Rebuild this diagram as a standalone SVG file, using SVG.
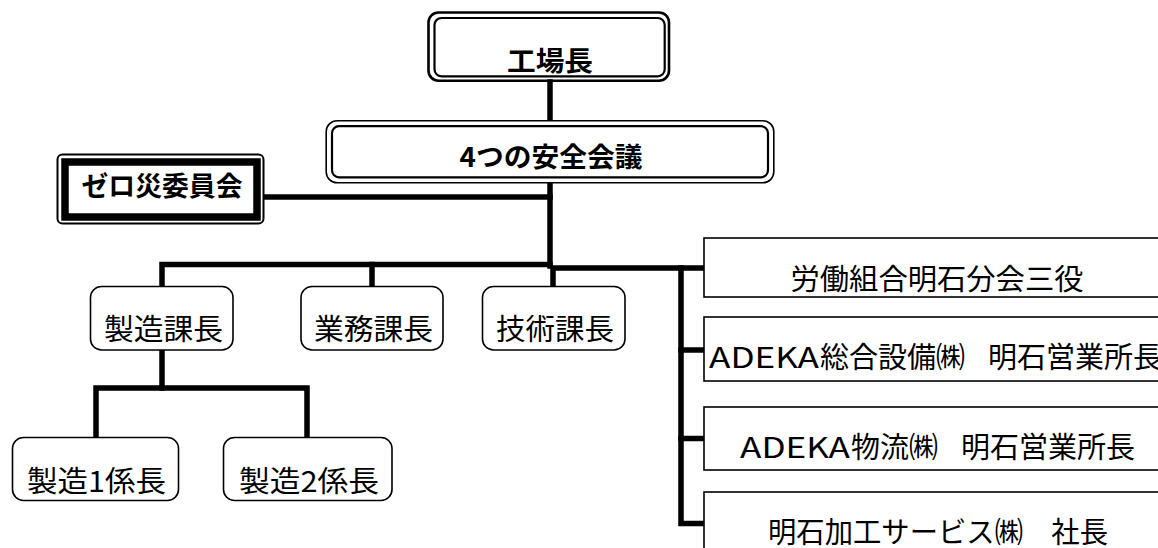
<svg xmlns="http://www.w3.org/2000/svg" width="1158" height="548" viewBox="0 0 1158 548">
<style>
  .bg { fill: #ffffff; }
  .box { fill: #ffffff; stroke: #000000; stroke-width: 1.6; }
  .dbl { fill: none; stroke: #000000; }
  .conn { fill: none; stroke: #000000; stroke-width: 5.5; stroke-linecap: square; }
  .t { font-family: "Noto Sans CJK JP", "Noto Sans", sans-serif; font-size: 29px; fill: #000000; }
  .tb { font-family: "Noto Sans CJK JP", "Noto Sans", sans-serif; font-size: 27px; font-weight: bold; fill: #000000; }
  .c { text-anchor: middle; }
</style>
<rect class="bg" x="0" y="0" width="1158" height="548"/>

<g id="connectors">
  <path class="conn" d="M550,82 V119"/>
  <path class="conn" d="M550,184 V266"/>
  <path class="conn" d="M266,197 H550"/>
  <path class="conn" d="M162,286 V264.5 H550"/>
  <path class="conn" d="M372,264.5 V286"/>
  <path class="conn" d="M553,286 V268 H703"/>
  <path class="conn" d="M681,268 V523.5 H703"/>
  <path class="conn" d="M681,350 H703"/>
  <path class="conn" d="M681,438.5 H703"/>
  <path class="conn" d="M162,350 V388"/>
  <path class="conn" d="M96,437 V388 H307 V437"/>
</g>

<g id="node-kojocho">
  <rect class="dbl" x="428.5" y="12.5" width="240.5" height="68.2" rx="10" stroke-width="2.6"/>
  <rect class="dbl" x="434.5" y="18" width="230.2" height="58.3" rx="7" stroke-width="2.2"/>
  <text class="tb c" x="550" y="71" textLength="86" lengthAdjust="spacingAndGlyphs">工場長</text>
</g>

<g id="node-anzen-kaigi">
  <rect class="box" x="326.2" y="120.7" width="447.6" height="62.1" rx="11" stroke-width="2.4" fill="#ffffff"/>
  <rect class="dbl" x="332" y="126.2" width="436" height="51.1" rx="7" stroke-width="2.2"/>
  <text class="tb c" x="551" y="167" textLength="183" lengthAdjust="spacingAndGlyphs">4つの安全会議</text>
</g>

<g id="node-zerosai">
  <rect class="dbl" x="57.5" y="154.5" width="206" height="69" rx="5" stroke-width="2"/>
  <rect class="dbl" x="65" y="162" width="192" height="55" stroke-width="7.5"/>
  <text class="tb c" x="162" y="196" textLength="161" lengthAdjust="spacingAndGlyphs">ゼロ災委員会</text>
</g>

<g id="node-seizo-kacho">
  <rect class="box" x="90.5" y="286.5" width="142.5" height="63.5" rx="11"/>
  <text class="t c" x="163.5" y="340" textLength="119" lengthAdjust="spacingAndGlyphs">製造課長</text>
</g>

<g id="node-gyomu-kacho">
  <rect class="box" x="301" y="286.5" width="142" height="63.5" rx="11"/>
  <text class="t c" x="373.5" y="340" textLength="119" lengthAdjust="spacingAndGlyphs">業務課長</text>
</g>

<g id="node-gijutsu-kacho">
  <rect class="box" x="482.5" y="286.5" width="142.5" height="63.5" rx="11"/>
  <text class="t c" x="555" y="340" textLength="118" lengthAdjust="spacingAndGlyphs">技術課長</text>
</g>

<g id="node-seizo1">
  <rect class="box" x="12.5" y="437.5" width="166" height="63" rx="11"/>
  <text class="t c" x="96.5" y="492" textLength="139" lengthAdjust="spacingAndGlyphs">製造1係長</text>
</g>

<g id="node-seizo2">
  <rect class="box" x="223.5" y="437.5" width="168.5" height="63" rx="11"/>
  <text class="t c" x="309" y="492" textLength="140" lengthAdjust="spacingAndGlyphs">製造2係長</text>
</g>

<g id="node-rodo-kumiai">
  <rect class="box" x="704" y="238" width="470" height="59"/>
  <text class="t c" x="937" y="290" textLength="293" lengthAdjust="spacingAndGlyphs">労働組合明石分会三役</text>
</g>

<g id="node-adeka-setsubi">
  <rect class="box" x="704" y="317" width="470" height="64"/>
  <text class="t" y="368"><tspan x="709" textLength="110" lengthAdjust="spacingAndGlyphs">ADEKA</tspan><tspan x="820">総合設備㈱　</tspan><tspan x="988">明石営業所長</tspan></text>
</g>

<g id="node-adeka-butsuryu">
  <rect class="box" x="704" y="407" width="470" height="63"/>
  <text class="t" y="458"><tspan x="740" textLength="110" lengthAdjust="spacingAndGlyphs">ADEKA</tspan><tspan x="851">物流㈱　</tspan><tspan x="961">明石営業所長</tspan></text>
</g>

<g id="node-akashi-kako">
  <rect class="box" x="704" y="492" width="470" height="80"/>
  <text class="t c" x="938" y="543" textLength="340" lengthAdjust="spacingAndGlyphs">明石加工サービス㈱　社長</text>
</g>
</svg>
